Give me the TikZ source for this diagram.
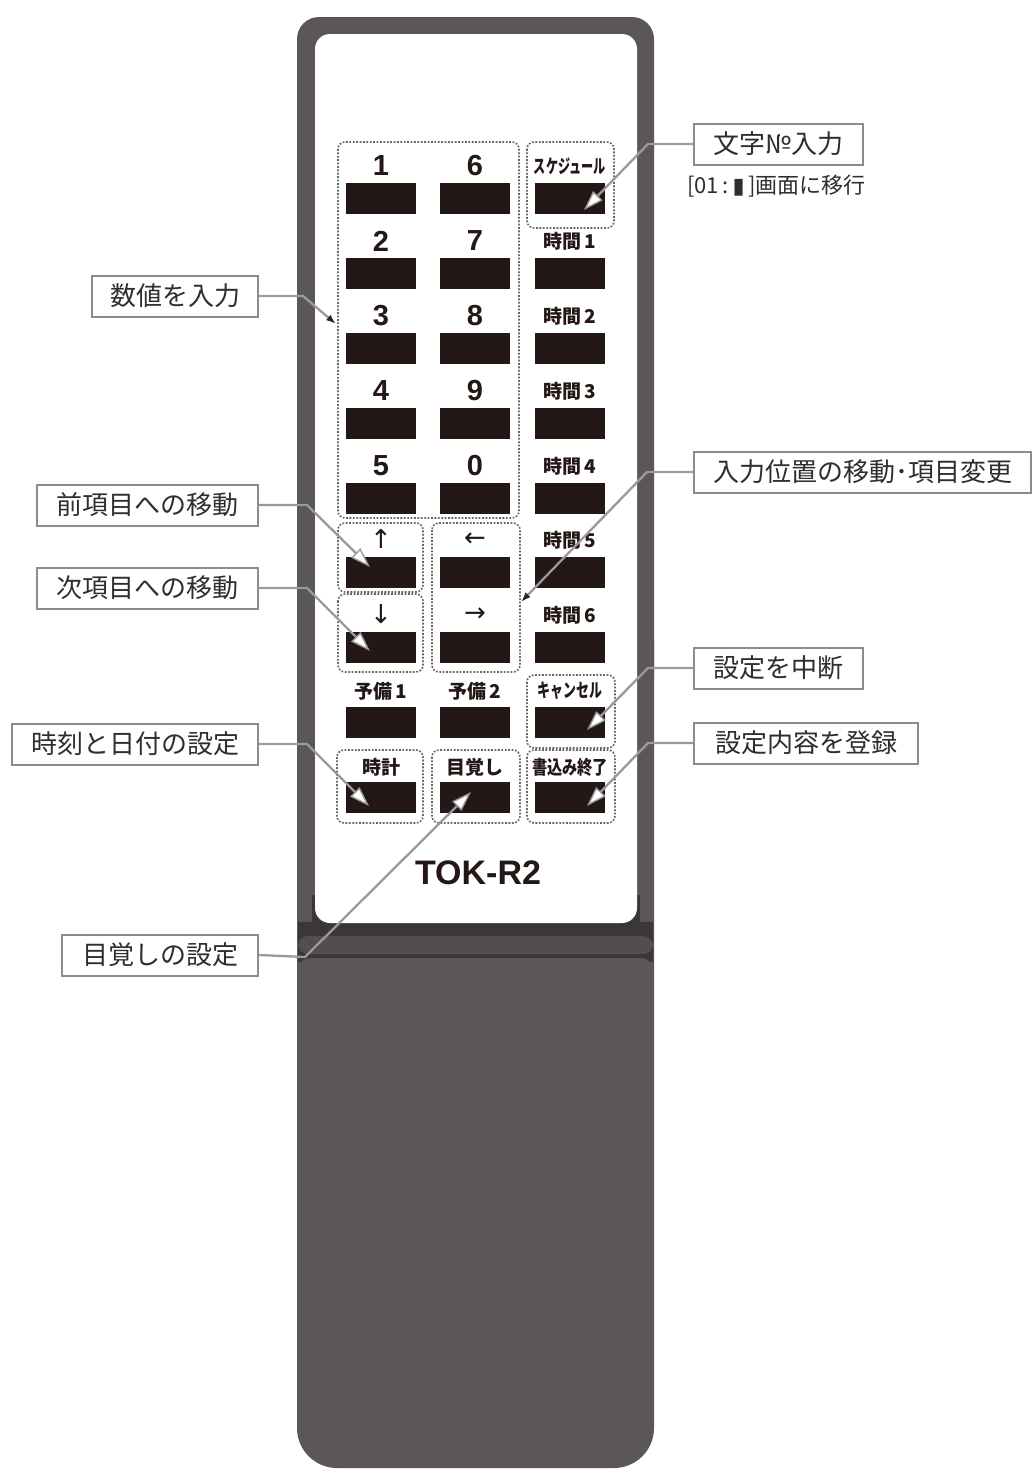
\documentclass[tikz,border=0pt]{standalone}
\usepackage{fontspec}
\usepackage{graphicx}
\setmainfont{Liberation Sans}
\newfontfamily\jp{Noto Sans CJK JP}
\newfontfamily\dejavu{DejaVu Sans}
\usetikzlibrary{arrows.meta}
\definecolor{bodygray}{HTML}{5B5657}
\definecolor{darkgray2}{HTML}{3B3637}
\definecolor{ridgegray}{HTML}{524D4E}
\definecolor{keyblack}{HTML}{231815}
\definecolor{leadgray}{HTML}{9A9A9A}
\definecolor{boxgray}{HTML}{8C8C8C}
\definecolor{txtgray}{HTML}{2E2E2E}
\definecolor{dashgray}{HTML}{666666}
\begin{document}
\begin{tikzpicture}[x=1pt,y=-1pt,
  callout/.style={draw=boxgray, line width=2pt, fill=white, minimum height=41pt, inner sep=0pt,
    font=\jp\fontsize{26}{30}\selectfont, text=txtgray},
  key/.style={fill=keyblack, minimum width=70pt, minimum height=31pt, inner sep=0pt},
  numlbl/.style={font=\bfseries\fontsize{29}{32}\selectfont, text=keyblack, inner sep=0pt},
  jplbl/.style={font=\jp\bfseries\fontsize{19}{22}\selectfont, text=keyblack, inner sep=0pt},
  arrlbl/.style={font=\dejavu\fontsize{26}{28}\selectfont, text=keyblack, inner sep=0pt},
  grp/.style={draw=dashgray, line width=1.6pt, dash pattern=on 1.8pt off 1.6pt, rounded corners=7pt},
  leader/.style={draw=leadgray, line width=2.3pt},
  openhead/.style={-{Triangle[length=20pt,width=13pt,fill=white,line width=1.4pt]}},
  solidhead/.style={-{Latex[length=10pt,width=7pt,color=black!85]}}
]
\useasboundingbox (0,0) rectangle (1033,1470);
\fill[white] (0,0) rectangle (1033,1470);

% ---- remote body ----
\fill[bodygray, rounded corners=22pt] (297,17) rectangle (654,700);
\fill[bodygray, rounded corners=40pt] (297,600) rectangle (654,1468);
\fill[darkgray2] (312,895) rectangle (640,937);
\fill[darkgray2] (298,922) rectangle (653,962);
\fill[ridgegray, rounded corners=10pt] (298,936) rectangle (653,954);
\fill[bodygray, rounded corners=12pt] (298,958) rectangle (653,1100);
\fill[white, rounded corners=15pt] (315,34) rectangle (637,923);

% ---- dashed groups ----
\draw[grp] (338,142) rectangle (519,518);
\draw[grp] (527,142) rectangle (614,228);
\draw[grp] (338,523) rectangle (423,592);
\draw[grp] (338,594) rectangle (423,672);
\draw[grp] (432,523) rectangle (520,672);
\draw[grp] (527,675) rectangle (615,748);
\draw[grp] (337,750) rectangle (423,823);
\draw[grp] (432,750) rectangle (520,823);
\draw[grp] (527,750) rectangle (615,823);

% ---- keys ----
\foreach \r/\yy in {1/198.5,2/273.5,3/348.5,4/423.5,5/498.5,6/572.5,7/647.5,8/722.5,9/797.5}{
  \node[key] (ka\r) at (381,\yy) {};
  \node[key] (kb\r) at (475,\yy) {};
  \node[key] (kc\r) at (570,\yy) {};
}

% ---- key labels ----
\node[numlbl] (la1) at (381,166) {1};
\node[numlbl] (la2) at (381,241) {2};
\node[numlbl] (la3) at (381,316) {3};
\node[numlbl] (la4) at (381,391) {4};
\node[numlbl] (la5) at (381,466) {5};
\node[numlbl] (lb1) at (475,166) {6};
\node[numlbl] (lb2) at (475,241) {7};
\node[numlbl] (lb3) at (475,316) {8};
\node[numlbl] (lb4) at (475,391) {9};
\node[numlbl] (lb5) at (475,466) {0};
\node[arrlbl] (la6) at (381,539) {↑};
\node[arrlbl] (la7) at (381,614) {↓};
\node[arrlbl] (lb6) at (475,540) {←};
\node[arrlbl] (lb7) at (475,615) {→};
\node[jplbl] (la8) at (381,691) {予備\,1};
\node[jplbl] (lb8) at (475,691) {予備\,2};
\node[jplbl] (la9) at (381,767) {時計};
\node[jplbl] (lb9) at (475,767) {目覚し};
\node[jplbl] (lc1) at (570,166) {\scalebox{0.64}[1]{スケジュール}};
\node[jplbl] (lc2) at (570,241) {時間\,1};
\node[jplbl] (lc3) at (570,316) {時間\,2};
\node[jplbl] (lc4) at (570,391) {時間\,3};
\node[jplbl] (lc5) at (570,466) {時間\,4};
\node[jplbl] (lc6) at (570,540) {時間\,5};
\node[jplbl] (lc7) at (570,615) {時間\,6};
\node[jplbl] (lc8) at (570,691) {\scalebox{0.68}[1]{キャンセル}};
\node[jplbl] (lc9) at (570,767) {\scalebox{0.8}[1]{書込み終了}};

\node[font=\bfseries\fontsize{34}{38}\selectfont, text=keyblack, inner sep=0pt] (model) at (478,873) {TOK-R2};

% ---- callouts ----
\node[callout, minimum width=166pt, anchor=east] (c-num) at (259,296) {数値を入力};
\node[callout, minimum width=221pt, anchor=east] (c-prev) at (259,505) {前項目への移動};
\node[callout, minimum width=221pt, anchor=east] (c-next) at (259,588) {次項目への移動};
\node[callout, minimum width=246pt, anchor=east] (c-clock) at (259,744) {時刻と日付の設定};
\node[callout, minimum width=196pt, anchor=east] (c-wake) at (259,955) {目覚しの設定};
\node[callout, minimum width=169pt, anchor=west] (c-char) at (693,144) {文字№入力};
\node[font=\jp\fontsize{22}{26}\selectfont, text=txtgray, anchor=west, inner sep=0pt] (c-note) at (687,186) {[01\,:\,{\dejavu ▮}\,]画面に移行};
\node[callout, minimum width=337pt, anchor=west] (c-pos) at (693,472) {入力位置の移動･項目変更};
\node[callout, minimum width=169pt, anchor=west] (c-cancel) at (693,668) {設定を中断};
\node[callout, minimum width=224pt, anchor=west] (c-reg) at (693,743) {設定内容を登録};

% ---- leader bends and tips ----
\coordinate (b-num) at (303,296);   \coordinate (t-num) at (336,324);
\coordinate (b-prev) at (307,505);  \coordinate (t-prev) at (370,567);
\coordinate (b-next) at (307,588);  \coordinate (t-next) at (370,651);
\coordinate (b-clock) at (307,744); \coordinate (t-clock) at (369,806);
\coordinate (b-wake) at (305,957);  \coordinate (t-wake) at (471,792);
\coordinate (b-char) at (648,144);  \coordinate (t-char) at (584,210);
\coordinate (b-pos) at (647,472);   \coordinate (t-pos) at (521,602);
\coordinate (b-cancel) at (648,668);\coordinate (t-cancel) at (587,730);
\coordinate (b-reg) at (648,743);   \coordinate (t-reg) at (587,806);

\draw[leader, solidhead] (c-num.east) -- (b-num) -- (t-num);
\draw[leader, openhead] (c-prev.east) -- (b-prev) -- (t-prev);
\draw[leader, openhead] (c-next.east) -- (b-next) -- (t-next);
\draw[leader, openhead] (c-clock.east) -- (b-clock) -- (t-clock);
\draw[leader, openhead] (c-wake.east) -- (b-wake) -- (t-wake);
\draw[leader, openhead] (c-char.west) -- (b-char) -- (t-char);
\draw[leader, solidhead] (c-pos.west) -- (b-pos) -- (t-pos);
\draw[leader, openhead] (c-cancel.west) -- (b-cancel) -- (t-cancel);
\draw[leader, openhead] (c-reg.west) -- (b-reg) -- (t-reg);
\end{tikzpicture}
\end{document}
